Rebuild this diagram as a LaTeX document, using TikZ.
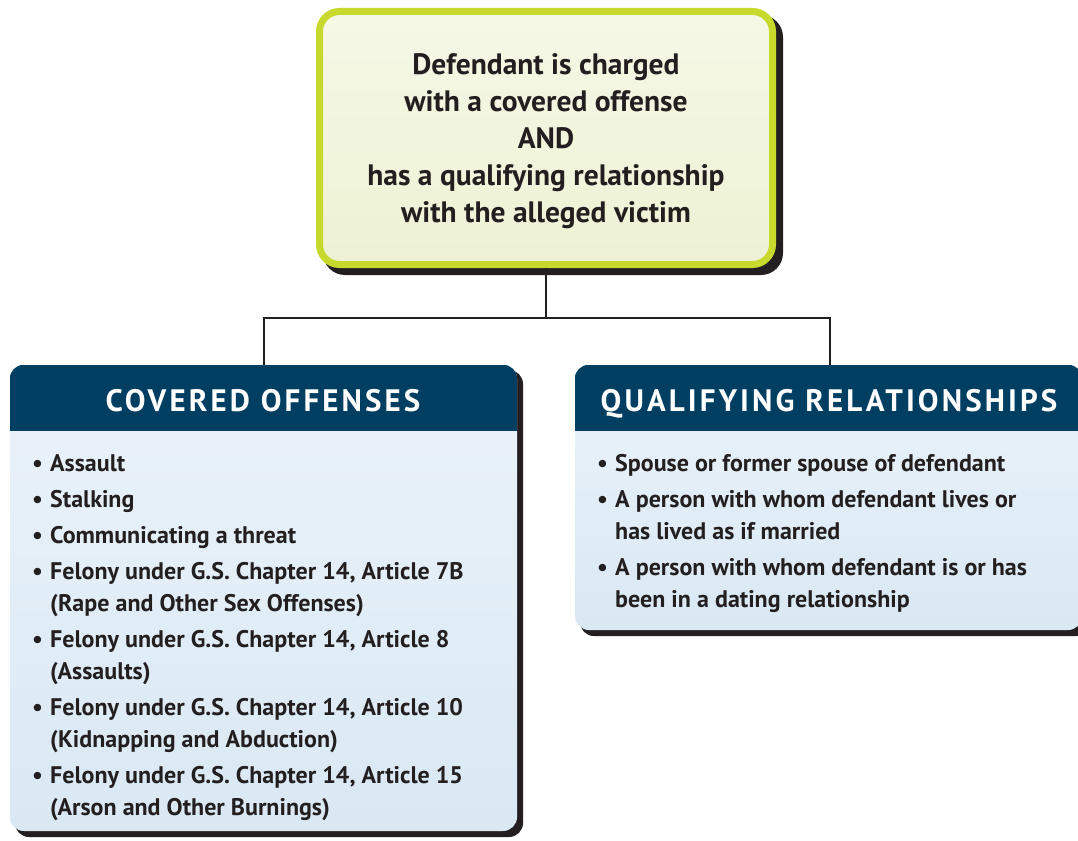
\documentclass[tikz,border=0pt]{standalone}
\usepackage{fontspec}
\setmainfont{PT Sans}
\newfontfamily\hdrfont[LetterSpace=10]{PT Sans}
\usetikzlibrary{calc}
\definecolor{txt}{HTML}{231F20}
\definecolor{lime}{HTML}{C8D92D}
\definecolor{navy}{HTML}{003E62}
\definecolor{shad}{HTML}{231F20}
\definecolor{topA}{HTML}{F5F8E6}
\definecolor{topB}{HTML}{EDF2D4}
\definecolor{bodyA}{HTML}{EBF3FA}
\definecolor{bodyB}{HTML}{D9E8F3}
\tikzset{
  topbox/.style={rectangle, rounded corners=20pt, draw=lime, line width=7pt,
    top color=topA, bottom color=topB, minimum width=453pt, minimum height=253pt, inner sep=0pt},
  panel/.style={rectangle, rounded corners=14pt, top color=bodyA, bottom color=bodyB, inner sep=0pt},
  toptext/.style={anchor=base, text=txt, font=\fontsize{29.5}{32}\selectfont\bfseries, inner sep=0pt},
  hdrtext/.style={anchor=base, text=white, font=\fontsize{31}{34}\hdrfont\bfseries, inner sep=0pt},
  itemtext/.style={anchor=base west, text=txt, font=\fontsize{24}{27}\selectfont\bfseries, inner sep=0pt},
  conn/.style={draw=txt, line width=1.6pt}
}
\newcommand{\bul}{\makebox[18pt][l]{•}}
\begin{document}
\begin{tikzpicture}[x=1pt,y=-1pt]
\useasboundingbox (0,0) rectangle (1078,840);
\clip (0,0) rectangle (1078,840);
\fill[white] (0,0) rectangle (1078,840);

% connector points
\coordinate (j) at (546,318);
\coordinate (lj) at (264,318);
\coordinate (rj) at (830,318);
\coordinate (lt) at (264,368);
\coordinate (rt) at (830,368);

% top box
\fill[shad, rounded corners=22pt] (323,15) rectangle (783,275);
\node[topbox] (top) at (546,138) {};
\draw[conn] (top.south) -- (j);
\draw[conn] (lt) -- (lj) -- (rj) -- (rt);

\node[toptext] (t1) at (546,75) {Defendant is charged};
\node[toptext] (t2) at (546,112) {with a covered offense};
\node[toptext] (t3) at (546,148) {AND};
\node[toptext] (t4) at (546,185) {has a qualifying relationship};
\node[toptext] (t5) at (546,222) {with the alleged victim};

% left panel
\fill[shad, rounded corners=14pt] (15,370) rectangle (523,837);
\node[panel, minimum width=507pt, minimum height=466pt] (left) at (263.5,598) {};
\begin{scope}
  \clip[rounded corners=14pt] (left.north west) rectangle (left.south east);
  \fill[navy] (left.north west) rectangle ($(left.north east)+(0,66)$);
\end{scope}
\node[hdrtext] (lh) at (263,411) {COVERED OFFENSES};

% right panel
\fill[shad, rounded corners=14pt] (580,370) rectangle (1090,636);
\node[panel, minimum width=507pt, minimum height=265pt] (right) at (828.5,497.5) {};
\begin{scope}
  \clip[rounded corners=14pt] (right.north west) rectangle (right.south east);
  \fill[navy] (right.north west) rectangle ($(right.north east)+(0,66)$);
\end{scope}
\node[hdrtext] (rh) at (829,411) {QUALIFYING RELATIONSHIPS};

% left items
\node[itemtext] (l1) at (32,471) {\bul Assault};
\node[itemtext] (l2) at (32,507) {\bul Stalking};
\node[itemtext] (l3) at (32,543) {\bul Communicating a threat};
\node[itemtext] (l4) at (32,579) {\bul Felony under G.S. Chapter 14, Article 7B};
\node[itemtext] (l5) at (50,611) {(Rape and Other Sex Offenses)};
\node[itemtext] (l6) at (32,647) {\bul Felony under G.S. Chapter 14, Article 8};
\node[itemtext] (l7) at (50,679) {(Assaults)};
\node[itemtext] (l8) at (32,715) {\bul Felony under G.S. Chapter 14, Article 10};
\node[itemtext] (l9) at (50,747) {(Kidnapping and Abduction)};
\node[itemtext] (l10) at (32,783) {\bul Felony under G.S. Chapter 14, Article 15};
\node[itemtext] (l11) at (50,815) {(Arson and Other Burnings)};

% right items
\node[itemtext] (r1) at (597,471) {\bul Spouse or former spouse of defendant};
\node[itemtext] (r2) at (597,507) {\bul A person with whom defendant lives or};
\node[itemtext] (r3) at (615,539) {has lived as if married};
\node[itemtext] (r4) at (597,575) {\bul A person with whom defendant is or has};
\node[itemtext] (r5) at (615,607) {been in a dating relationship};
\end{tikzpicture}
\end{document}
